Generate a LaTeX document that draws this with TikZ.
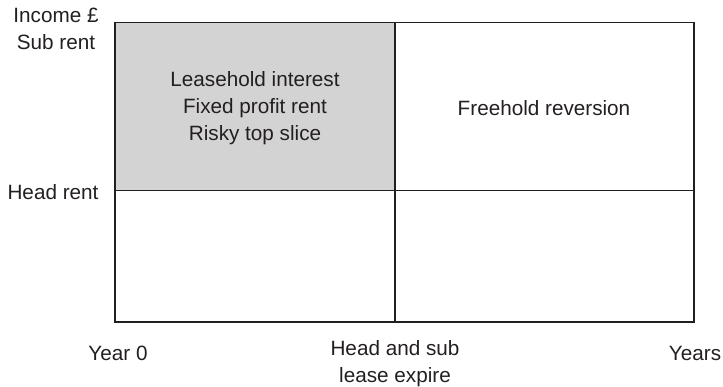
\documentclass[tikz,border=0pt]{standalone}
\usepackage{fontspec}
\setmainfont{Liberation Sans}
\definecolor{greyfill}{RGB}{211,211,212}
\definecolor{ink}{RGB}{35,31,32}
\begin{document}
\begin{tikzpicture}[x=1pt,y=-1pt,
  lbl/.style={inner sep=0pt,text=ink,font=\fontsize{20.7}{27}\selectfont,align=center},
  edge/.style={draw=ink,line width=1.1pt}]
\useasboundingbox (0,0) rectangle (723,386);
\fill[greyfill] (115,22.5) rectangle (395,190.5);
\coordinate (tl) at (115,22.5);
\coordinate (tr) at (694,22.5);
\coordinate (bl) at (115,322);
\coordinate (br) at (694,322);
\coordinate (mt) at (395,22.5);
\coordinate (mb) at (395,322);
\coordinate (ml) at (115,190.5);
\coordinate (mr) at (694,190.5);
\draw[edge] (tl) rectangle (br);
\draw[edge] (mt) -- (mb);
\draw[edge] (ml) -- (mr);
\node[lbl] (inc) at (56,28.5) {Income £\\Sub rent};
\node[lbl] (head) at (53,192) {Head rent};
\node[lbl] (lease) at (255,108) {Leasehold interest\\Fixed profit rent\\Risky top slice};
\node[lbl] (free) at (544,108) {Freehold reversion};
\node[lbl] (y0) at (118,353) {Year 0};
\node[lbl] (exp) at (395,363.5) {Head and sub\\lease expire};
\node[lbl] (yrs) at (695,353) {Years};
\end{tikzpicture}
\end{document}
